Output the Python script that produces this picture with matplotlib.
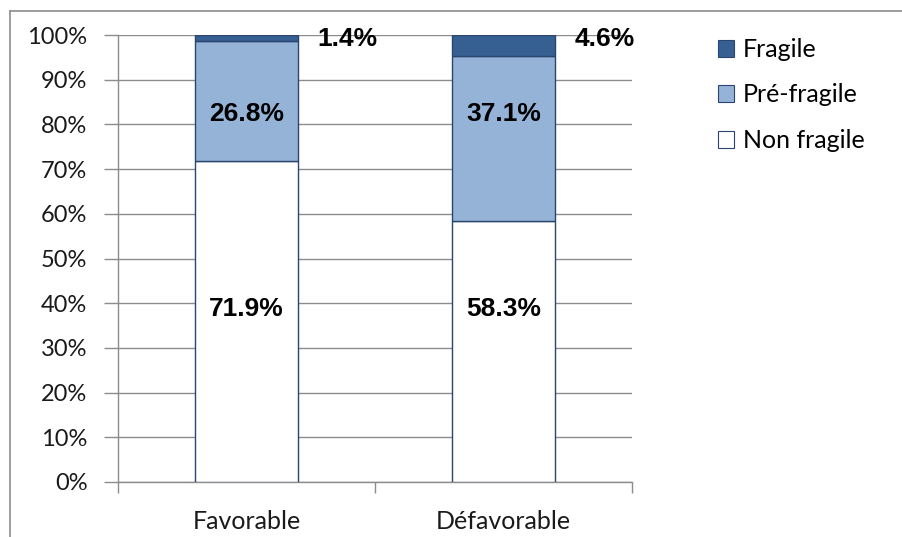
import matplotlib
matplotlib.use("Agg")
import matplotlib.pyplot as plt
from matplotlib.lines import Line2D
from matplotlib.patches import Patch

categories = ["Favorable", "Défavorable"]
series_names = ["Non fragile", "Pré-fragile", "Fragile"]
non_fragile = [71.9, 58.3]
pre_fragile = [26.8, 37.1]
fragile = [1.4, 4.6]
y_ticks = [0, 10, 20, 30, 40, 50, 60, 70, 80, 90, 100]

colors = {"Non fragile": "#FFFFFF", "Pré-fragile": "#95B3D7", "Fragile": "#376092"}
edge = "#2A4570"
tick_font = "Lato"

fig = plt.figure(figsize=(9.02, 5.37), dpi=100)
fig.patch.set_facecolor("white")
ax = fig.add_axes([118 / 902, 1 - 482 / 537, (632 - 118) / 902, (482 - 35) / 537])

x = list(range(len(categories)))
w = 0.4
bottom = [0.0] * len(categories)
for name, vals in zip(series_names, [non_fragile, pre_fragile, fragile]):
    ax.bar(x, vals, width=w, bottom=bottom, color=colors[name], edgecolor=edge,
           linewidth=1.0, zorder=3, label=name)
    bottom = [b + v for b, v in zip(bottom, vals)]

ax.set_xlim(-0.5, len(categories) - 0.5)
ax.set_ylim(0, 100)
ax.set_yticks(y_ticks)
ax.set_yticklabels([f"{t}%" for t in y_ticks], fontsize=17, family=tick_font, color="#1a1a1a")
ax.yaxis.grid(True, color="#8c8c8c", linewidth=1.0, zorder=0)
ax.tick_params(axis="y", length=10, width=1.0, color="#8c8c8c", pad=12)

ax.set_xticks([i - 0.5 for i in range(len(categories) + 1)])
ax.set_xticklabels([])
ax.set_xticks(x, minor=True)
ax.set_xticklabels(categories, minor=True, fontsize=18, family=tick_font, color="#1a1a1a")
ax.tick_params(axis="x", which="major", length=8, width=1.0, color="#8c8c8c")
ax.tick_params(axis="x", which="minor", length=0, pad=20)

for s in ["top", "right"]:
    ax.spines[s].set_visible(False)
for s in ["left", "bottom"]:
    ax.spines[s].set_color("#8c8c8c")
    ax.spines[s].set_linewidth(1.0)

lbl = dict(fontsize=19, fontweight="bold", family="Liberation Sans", color="black", zorder=5)
for i in x:
    ax.text(i, 38.6, f"{non_fragile[i]:.1f}%", ha="center", va="center", **lbl)
    ax.text(i, 82.4, f"{pre_fragile[i]:.1f}%", ha="center", va="center", **lbl)
    ax.text(i + 0.275, 99.2, f"{fragile[i]:.1f}%", ha="left", va="center", clip_on=False, **lbl)

handles = [Patch(facecolor=colors[n], edgecolor=edge, linewidth=0.8) for n in reversed(series_names)]
fig.legend(handles, list(reversed(series_names)), loc="upper left",
           bbox_to_anchor=(708 / 902, 1 - 28 / 537), frameon=False,
           prop={"family": tick_font, "size": 18}, handlelength=0.65, handleheight=0.65,
           handletextpad=0.35, labelspacing=0.9, borderaxespad=0)

# outer chart frame (top and left edges)
frame_kw = dict(transform=fig.transFigure, color="#8c8c8c", linewidth=1.2)
fig.add_artist(Line2D([10 / 902, 1.0], [1 - 11 / 537] * 2, **frame_kw))
fig.add_artist(Line2D([10 / 902] * 2, [0.0, 1 - 11 / 537], **frame_kw))

fig.savefig("out.png", dpi=100)
